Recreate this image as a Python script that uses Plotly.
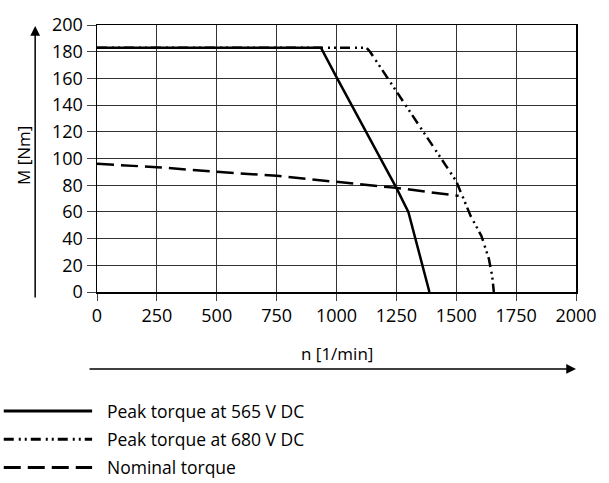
import plotly.graph_objects as go

# Data
n_565 = [0, 935, 1000, 1250, 1300, 1388]
m_565 = [183, 183, 161, 78, 60, 0]

n_680 = [0, 1125, 1140, 1500, 1560, 1605, 1636, 1650, 1657]
m_680 = [183, 183, 180, 83, 57, 42, 25, 12, 0]

n_nom = [0, 250, 500, 750, 1000, 1250, 1510]
m_nom = [96, 93.5, 90, 87, 82.5, 78, 72]

x_ticks = [0, 250, 500, 750, 1000, 1250, 1500, 1750, 2000]
y_ticks = [0, 20, 40, 60, 80, 100, 120, 140, 160, 180, 200]

series_names = ["Peak torque at 565 V DC", "Peak torque at 680 V DC", "Nominal torque"]

FONT = "Open Sans"
DASH_680 = "10px,5px,2px,4px,2px,4px"
DASH_NOM = "17px,7px"

fig = go.Figure()
fig.add_trace(go.Scatter(x=n_nom, y=m_nom, mode="lines", name=series_names[2],
                         line=dict(color="black", width=2.5, dash=DASH_NOM), showlegend=False,
                         hoverinfo="skip"))
fig.add_trace(go.Scatter(x=n_680, y=m_680, mode="lines", name=series_names[1],
                         line=dict(color="black", width=2.5, dash=DASH_680), showlegend=False,
                         hoverinfo="skip"))
fig.add_trace(go.Scatter(x=n_565, y=m_565, mode="lines", name=series_names[0],
                         line=dict(color="black", width=2.5), showlegend=False,
                         hoverinfo="skip"))

W, H = 609, 483
L, R, T, B = 97, 24, 18, 191
pw, ph = W - L - R, H - T - B

def px(xp):
    return (xp - L) / pw

def py(yp):
    return (H - B - yp) / ph

fig.update_layout(
    width=W, height=H,
    margin=dict(l=L, r=R, t=T, b=B),
    paper_bgcolor="white", plot_bgcolor="white",
    font=dict(family=FONT, size=18, color="black"),
    hovermode=False,
    xaxis=dict(range=[0, 2000], tickvals=x_ticks, ticks="outside", ticklen=7, tickcolor="#444",
               showgrid=True, gridcolor="#333", gridwidth=1, zeroline=False,
               showline=True, linecolor="black", linewidth=1.5, mirror=True,
               tickfont=dict(size=18, family=FONT)),
    yaxis=dict(range=[0, 200], tickvals=y_ticks, ticks="outside", ticklen=9, tickcolor="#444",
               showgrid=True, gridcolor="#333", gridwidth=1, zeroline=False,
               showline=True, linecolor="black", linewidth=1.5, mirror=True,
               tickfont=dict(size=18, family=FONT)),
)

shapes = []
annotations = []
# Axis titles
annotations.append(dict(xref="paper", yref="paper", x=px(22), y=py(152), text="M [Nm]",
                        textangle=-90, showarrow=False, font=dict(size=17, family=FONT),
                        xanchor="center", yanchor="middle"))
annotations.append(dict(xref="paper", yref="paper", x=px(341), y=py(355), text="n [1/min]",
                        showarrow=False, font=dict(size=17, family=FONT),
                        xanchor="center", yanchor="middle"))
# Arrows
annotations.append(dict(xref="paper", yref="paper",
                        x=px(34), y=py(19), ax=0, ay=273, text="", showarrow=True,
                        arrowhead=2, arrowsize=1.3, arrowwidth=1.5, arrowcolor="black"))
annotations.append(dict(xref="paper", yref="paper", x=px(585), y=py(371), ax=-488, ay=0,
                        text="", showarrow=True,
                        arrowhead=2, arrowsize=1.3, arrowwidth=1.5, arrowcolor="black"))

# Legend drawn manually
leg_rows = [414, 443, 472]
leg_dash = ["solid", DASH_680, DASH_NOM]
for name, yrow, dash in zip(series_names, leg_rows, leg_dash):
    shapes.append(dict(type="line", xref="paper", yref="paper",
                       x0=px(2), x1=px(92), y0=py(yrow), y1=py(yrow),
                       line=dict(color="black", width=3, dash=dash)))
    annotations.append(dict(xref="paper", yref="paper", x=px(105), y=py(yrow), text=name,
                            showarrow=False, xanchor="left", yanchor="middle",
                            font=dict(size=17.5, family=FONT)))

fig.update_layout(shapes=shapes, annotations=annotations)
fig.write_html("out.html", config={"displayModeBar": False, "staticPlot": True},
               post_script="document.body.style.margin='0';")
